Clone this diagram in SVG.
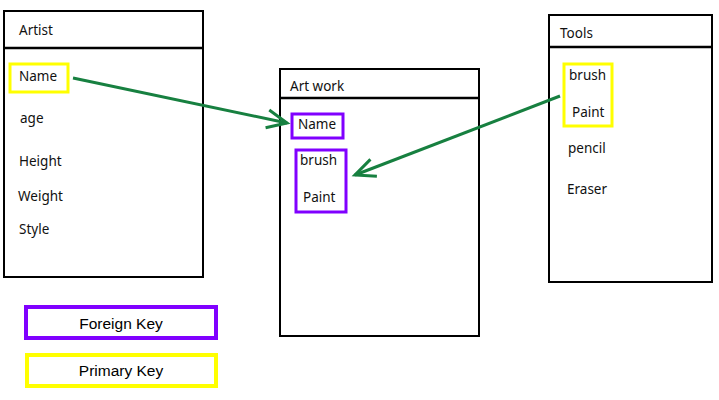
<svg xmlns="http://www.w3.org/2000/svg" width="719" height="400" viewBox="0 0 719 400">
<style>
.box{fill:#fff;stroke:#000;stroke-width:2}
.hdr{stroke:#000;stroke-width:2.5}
.t{font-family:"Noto Sans","Open Sans",sans-serif;font-size:13.5px;fill:#111}
.pk{fill:none;stroke:#ffff00;stroke-width:3}
.fk{fill:none;stroke:#8000ff;stroke-width:3}
.lgb{stroke-width:4}
.lg{font-family:"Liberation Sans",Arial,sans-serif;font-size:15.5px;fill:#000;text-anchor:middle}
.conn{stroke:#178040;stroke-width:3;fill:none}
</style>
<defs>
<marker id="ah" markerUnits="userSpaceOnUse" markerWidth="30" markerHeight="30" refX="21" refY="10" orient="auto" viewBox="0 0 30 20" overflow="visible">
<path d="M1,1 L21,10 L1,19" fill="none" stroke="#178040" stroke-width="3"/>
</marker>
</defs>
<rect width="719" height="400" fill="#fff"/>
<g id="artist">
<rect class="box" x="4" y="11" width="199" height="266"/>
<line class="hdr" x1="4" y1="48" x2="203" y2="48"/>
<text class="t" x="19" y="35">Artist</text>
<rect class="pk" x="10" y="64" width="58" height="28"/>
<text class="t" x="19" y="81">Name</text>
<text class="t" x="20" y="123">age</text>
<text class="t" x="19" y="166">Height</text>
<text class="t" x="18" y="201">Weight</text>
<text class="t" x="19" y="234">Style</text>
</g>
<g id="artwork">
<rect class="box" x="280" y="69" width="199" height="267"/>
<line class="hdr" x1="280" y1="98" x2="479" y2="98"/>
<text class="t" x="290" y="91">Art work</text>
<rect class="fk" x="292" y="114" width="51" height="24"/>
<text class="t" x="298" y="129">Name</text>
<rect class="fk" x="296" y="150" width="50" height="62"/>
<text class="t" x="300" y="165">brush</text>
<text class="t" x="303" y="202">Paint</text>
</g>
<g id="tools">
<rect class="box" x="549" y="15" width="163" height="267"/>
<line class="hdr" x1="549" y1="47" x2="712" y2="47"/>
<text class="t" x="560" y="38">Tools</text>
<rect class="pk" x="564" y="64" width="48" height="62"/>
<text class="t" x="569" y="80">brush</text>
<text class="t" x="572" y="117">Paint</text>
<text class="t" x="568" y="153">pencil</text>
<text class="t" x="567" y="194">Eraser</text>
</g>
<g id="legend-fk">
<rect class="fk lgb" x="26" y="307" width="190" height="31"/>
<text class="lg" x="121" y="329">Foreign Key</text>
</g>
<g id="legend-pk">
<rect class="pk lgb" x="27" y="355" width="189" height="31"/>
<text class="lg" x="121" y="376">Primary Key</text>
</g>
<g id="connectors">
<line class="conn" x1="73" y1="78" x2="287" y2="123" marker-end="url(#ah)"/>
<line class="conn" x1="560" y1="96" x2="355" y2="175" marker-end="url(#ah)"/>
</g>
</svg>
